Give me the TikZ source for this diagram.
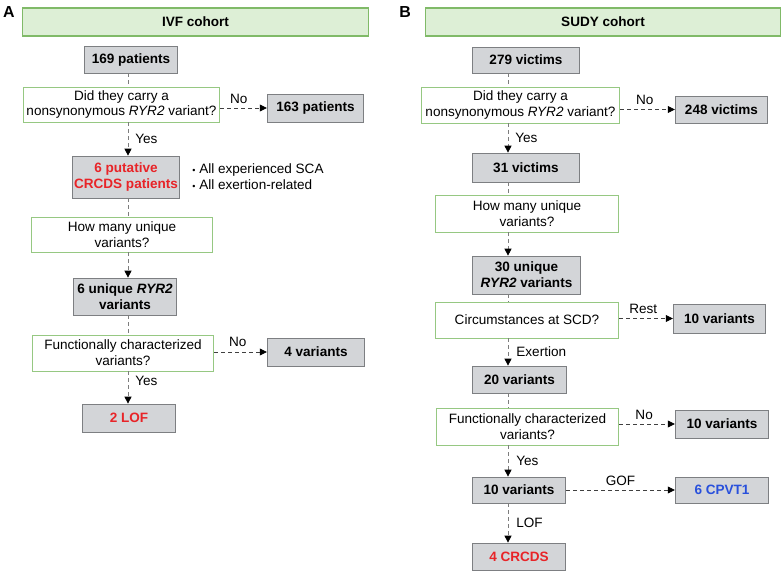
\documentclass[tikz,border=0pt]{standalone}
\usepackage{fontspec}
\setmainfont{Liberation Sans}
\usetikzlibrary{arrows.meta}
\definecolor{cohortfill}{RGB}{221,239,214}
\definecolor{cohortline}{RGB}{128,186,104}
\definecolor{countfill}{RGB}{211,213,216}
\definecolor{countline}{RGB}{125,127,130}
\definecolor{askline}{RGB}{150,200,130}
\definecolor{crcdsred}{RGB}{232,36,40}
\definecolor{cpvtblue}{RGB}{40,80,220}
\definecolor{linkgray}{RGB}{125,125,125}

\begin{document}
\begin{tikzpicture}[x=1bp, y=-1bp, line width=0.8bp,
  every node/.style={font=\fontsize{13.6}{16}\selectfont, inner sep=0pt, align=center},
  cohortbox/.style={draw=cohortline, fill=cohortfill, line width=1.2bp, font=\fontsize{13.6}{16}\selectfont\bfseries},
  countbox/.style={draw=countline, fill=countfill, font=\fontsize{13.6}{16}\selectfont\bfseries},
  askbox/.style={draw=askline, fill=white},
  link/.style={linkgray, dashed, dash pattern=on 4bp off 3bp},
  linkarrow/.style={link, -{Triangle[length=7bp, width=7bp, color=black]}},
  sidearrow/.style={linkarrow, black!75}]
  \useasboundingbox (0,0) rectangle (784,571);
  % column lines of the two flow charts
  \coordinate (colA) at (128,0);
  \coordinate (colB) at (508,0);

  % Panel A: IVF cohort
  \node[font=\fontsize{16}{16}\selectfont\bfseries] (labA) at (9,12) {A};
  \node[cohortbox, minimum width=347, minimum height=28] (headA) at (195.5,22) {IVF cohort};
  \node[countbox, minimum width=94, minimum height=27] (p169) at (131,59.5) {169 patients};
  \node[askbox, minimum width=197, minimum height=35] (qa1) at (121.5,104.5) {Did they carry a\\nonsynonymous \textit{RYR2} variant?};
  \node[countbox, minimum width=97, minimum height=28] (p163) at (315.5,108) {163 patients};
  \node[countbox, minimum width=108, minimum height=42, text=crcdsred] (crcds6) at (126,177) {6 putative\\CRCDS patients};
  \node[anchor=west, align=left] (notesA) at (192,177) {{\fontsize{9}{9}\selectfont•} All experienced SCA\\{\fontsize{9}{9}\selectfont•} All exertion-related};
  \node[askbox, minimum width=182, minimum height=35] (qa2) at (122,234.5) {How many unique\\variants?};
  \node[countbox, minimum width=104, minimum height=37] (uniq6) at (125,296.5) {6 unique \textit{RYR2}\\variants};
  \node[askbox, minimum width=182, minimum height=36] (qa3) at (123,353) {Functionally characterized\\variants?};
  \node[countbox, minimum width=98, minimum height=28] (v4) at (316,352) {4 variants};
  \node[countbox, minimum width=94, minimum height=28, text=crcdsred] (lof2) at (129,418) {2 LOF};

  \draw[link] (p169.south -| colA) -- (qa1.north -| colA);
  \draw[linkarrow] (qa1.south -| colA) -- (crcds6.north -| colA) node[midway, right=7bp, black] {Yes};
  \draw[sidearrow] (qa1.east |- p163.west) -- (p163.west) node[pos=0.4, above=4bp, black] {No};
  \draw[link] (crcds6.south -| colA) -- (qa2.north -| colA);
  \draw[linkarrow] (qa2.south -| colA) -- (uniq6.north -| colA);
  \draw[link] (uniq6.south -| colA) -- (qa3.north -| colA);
  \draw[sidearrow] (qa3.east |- v4.west) -- (v4.west) node[pos=0.45, above=5bp, black] {No};
  \draw[linkarrow] (qa3.south -| colA) -- (lof2.north -| colA) node[pos=0.3, right=7bp, black] {Yes};

  % Panel B: SUDY cohort
  \node[font=\fontsize{16}{16}\selectfont\bfseries] (labB) at (405,12) {B};
  \node[cohortbox, minimum width=357, minimum height=28] (headB) at (603,22) {SUDY cohort};
  \node[countbox, minimum width=108, minimum height=26] (v279) at (526,60) {279 victims};
  \node[askbox, minimum width=199, minimum height=36] (qb1) at (520.5,105) {Did they carry a\\nonsynonymous \textit{RYR2} variant?};
  \node[countbox, minimum width=93, minimum height=27] (v248) at (721.5,109.5) {248 victims};
  \node[countbox, minimum width=108, minimum height=29] (v31) at (526,167.5) {31 victims};
  \node[askbox, minimum width=184, minimum height=37] (qb2) at (527,213.5) {How many unique\\variants?};
  \node[countbox, minimum width=109, minimum height=38] (uniq30) at (526.5,275) {30 unique\\\textit{RYR2} variants};
  \node[askbox, minimum width=184, minimum height=36] (qb3) at (527,320) {Circumstances at SCD?};
  \node[countbox, minimum width=93, minimum height=29] (v10r) at (719.5,318.5) {10 variants};
  \node[countbox, minimum width=95, minimum height=27] (v20) at (519.5,379.5) {20 variants};
  \node[askbox, minimum width=183, minimum height=37] (qb4) at (527.5,426.5) {Functionally characterized\\variants?};
  \node[countbox, minimum width=94, minimum height=28] (v10n) at (722,424) {10 variants};
  \node[countbox, minimum width=94, minimum height=26] (v10) at (519,490) {10 variants};
  \node[countbox, minimum width=94, minimum height=26, text=cpvtblue] (cpvt6) at (722,490) {6 CPVT1};
  \node[countbox, minimum width=94, minimum height=27, text=crcdsred] (crcds4) at (519,556.5) {4 CRCDS};

  \draw[link] (v279.south -| colB) -- (qb1.north -| colB);
  \draw[linkarrow] (qb1.south -| colB) -- (v31.north -| colB) node[midway, right=7bp, black] {Yes};
  \draw[sidearrow] (qb1.east |- v248.west) -- (v248.west) node[pos=0.45, above=4bp, black] {No};
  \draw[link] (v31.south -| colB) -- (qb2.north -| colB);
  \draw[linkarrow] (qb2.south -| colB) -- (uniq30.north -| colB);
  \draw[link] (uniq30.south -| colB) -- (qb3.north -| colB);
  \draw[sidearrow] (qb3.east |- v10r.west) -- (v10r.west) node[pos=0.45, above=4bp, black] {Rest};
  \draw[linkarrow] (qb3.south -| colB) -- (v20.north -| colB) node[midway, right=8bp, black] {Exertion};
  \draw[link] (v20.south -| colB) -- (qb4.north -| colB);
  \draw[sidearrow] (qb4.east |- v10n.west) -- (v10n.west) node[pos=0.45, above=4bp, black] {No};
  \draw[linkarrow] (qb4.south -| colB) -- (v10.north -| colB) node[midway, right=8bp, black] {Yes};
  \draw[sidearrow] (v10) -- (cpvt6) node[midway, above=4bp, black] {GOF};
  \draw[linkarrow] (v10.south -| colB) -- (crcds4.north -| colB) node[midway, right=8bp, black] {LOF};
\end{tikzpicture}
\end{document}
